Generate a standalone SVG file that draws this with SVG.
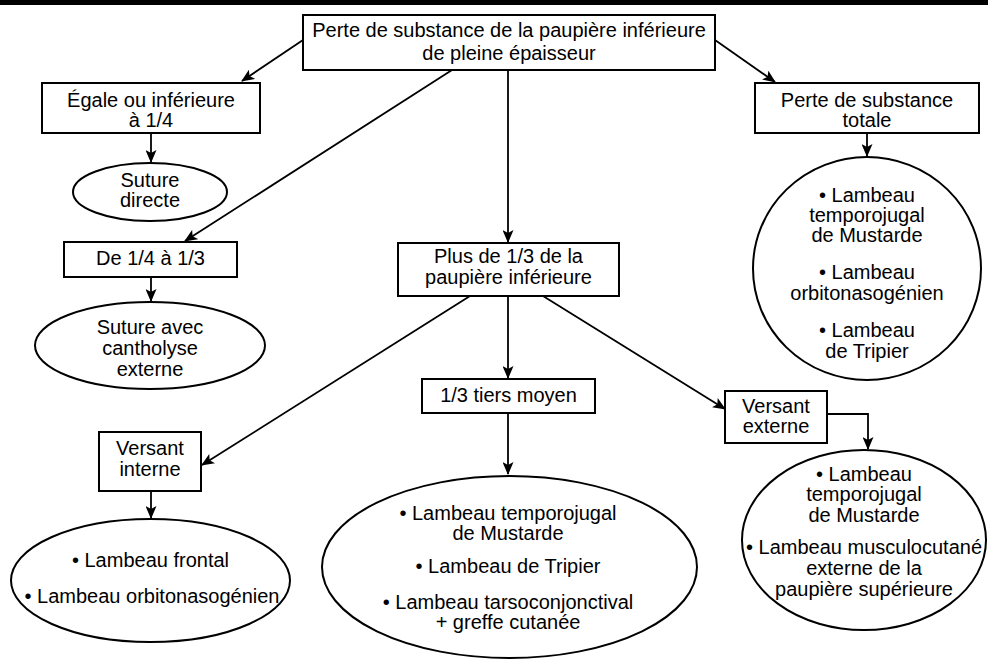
<svg xmlns="http://www.w3.org/2000/svg" width="988" height="659" viewBox="0 0 988 659">
<style>
  .bx { fill: #fff; stroke: #000; stroke-width: 2; }
  .el { fill: #fff; stroke: #000; stroke-width: 2; }
  .cn { fill: none; stroke: #000; stroke-width: 1.8; marker-end: url(#ah); }
  text { font-family: "Liberation Sans", Arial, Helvetica, sans-serif; font-size: 20px; fill: #000; text-anchor: middle; }
</style>
<defs>
  <marker id="ah" markerUnits="userSpaceOnUse" markerWidth="13" markerHeight="11" viewBox="0 0 13 11" refX="12" refY="5.5" orient="auto">
    <path d="M0,0 L13,5.5 L0,11 L3,5.5 z" fill="#000"/>
  </marker>
</defs>
<rect x="0" y="0" width="988" height="5" fill="#000"/>

<g id="connectors">
  <line class="cn" x1="303" y1="40" x2="242" y2="81"/>
  <line class="cn" x1="715" y1="40" x2="775" y2="82"/>
  <line class="cn" x1="452" y1="70" x2="185" y2="241"/>
  <line class="cn" x1="508" y1="70" x2="508" y2="242"/>
  <line class="cn" x1="151" y1="133" x2="151" y2="162"/>
  <line class="cn" x1="151" y1="277" x2="151" y2="301"/>
  <line class="cn" x1="867" y1="133" x2="867" y2="156"/>
  <line class="cn" x1="508" y1="296" x2="508" y2="378"/>
  <line class="cn" x1="470" y1="296" x2="202" y2="465"/>
  <line class="cn" x1="543" y1="296" x2="725" y2="409"/>
  <line class="cn" x1="508" y1="413" x2="508" y2="474"/>
  <line class="cn" x1="151" y1="491" x2="151" y2="518"/>
  <polyline class="cn" points="827,414 868,414 868,449"/>
</g>

<g id="n-top">
  <rect class="bx" x="303" y="15" width="412" height="55"/>
  <text x="509" y="37">Perte de substance de la paupière inférieure</text>
  <text x="509" y="60">de pleine épaisseur</text>
</g>

<g id="n-egale">
  <rect class="bx" x="42" y="83" width="218" height="50"/>
  <text x="151" y="107">Égale ou inférieure</text>
  <text x="151" y="127">à 1/4</text>
</g>

<g id="n-totale">
  <rect class="bx" x="755" y="83" width="224" height="50"/>
  <text x="867" y="107">Perte de substance</text>
  <text x="867" y="127">totale</text>
</g>

<g id="n-suture-directe">
  <ellipse class="el" cx="150" cy="192" rx="77" ry="29"/>
  <text x="150" y="187">Suture</text>
  <text x="150" y="207">directe</text>
</g>

<g id="n-de14">
  <rect class="bx" x="64" y="242" width="173" height="35"/>
  <text x="150.5" y="265">De 1/4 à 1/3</text>
</g>

<g id="n-suture-cantholyse">
  <ellipse class="el" cx="150" cy="345.5" rx="115" ry="43.5"/>
  <text x="150" y="334">Suture avec</text>
  <text x="150" y="355">cantholyse</text>
  <text x="150" y="376">externe</text>
</g>

<g id="n-plus13">
  <rect class="bx" x="398" y="243" width="221" height="53"/>
  <text x="508.5" y="263">Plus de 1/3 de la</text>
  <text x="508.5" y="284">paupière inférieure</text>
</g>

<g id="n-totale-res">
  <ellipse class="el" cx="867" cy="268.5" rx="114" ry="111.5"/>
  <text x="867" y="202">• Lambeau</text>
  <text x="867" y="222">temporojugal</text>
  <text x="867" y="242">de Mustarde</text>
  <text x="867" y="279">• Lambeau</text>
  <text x="867" y="300">orbitonasogénien</text>
  <text x="867" y="337">• Lambeau</text>
  <text x="867" y="358">de Tripier</text>
</g>

<g id="n-tiers">
  <rect class="bx" x="422" y="379" width="173" height="34"/>
  <text x="508.5" y="402">1/3 tiers moyen</text>
</g>

<g id="n-vinterne">
  <rect class="bx" x="99" y="432" width="102" height="59"/>
  <text x="150" y="455">Versant</text>
  <text x="150" y="476">interne</text>
</g>

<g id="n-vexterne">
  <rect class="bx" x="725" y="391" width="102" height="52"/>
  <text x="776" y="413">Versant</text>
  <text x="776" y="433">externe</text>
</g>

<g id="n-interne-res">
  <ellipse class="el" cx="150.5" cy="580.5" rx="139.5" ry="61.5"/>
  <text x="150.5" y="567">• Lambeau frontal</text>
  <text x="152" y="603">• Lambeau orbitonasogénien</text>
</g>

<g id="n-tiers-res">
  <ellipse class="el" cx="509.5" cy="567" rx="187.5" ry="91"/>
  <text x="508" y="520">• Lambeau temporojugal</text>
  <text x="508" y="540">de Mustarde</text>
  <text x="508" y="573">• Lambeau de Tripier</text>
  <text x="508" y="609">• Lambeau tarsoconjonctival</text>
  <text x="508" y="629">+ greffe cutanée</text>
</g>

<g id="n-externe-res">
  <ellipse class="el" cx="864" cy="540" rx="122" ry="90"/>
  <text x="864" y="481">• Lambeau</text>
  <text x="864" y="501">temporojugal</text>
  <text x="864" y="522">de Mustarde</text>
  <text x="864" y="554">• Lambeau musculocutané</text>
  <text x="864" y="575">externe de la</text>
  <text x="864" y="596">paupière supérieure</text>
</g>
</svg>
